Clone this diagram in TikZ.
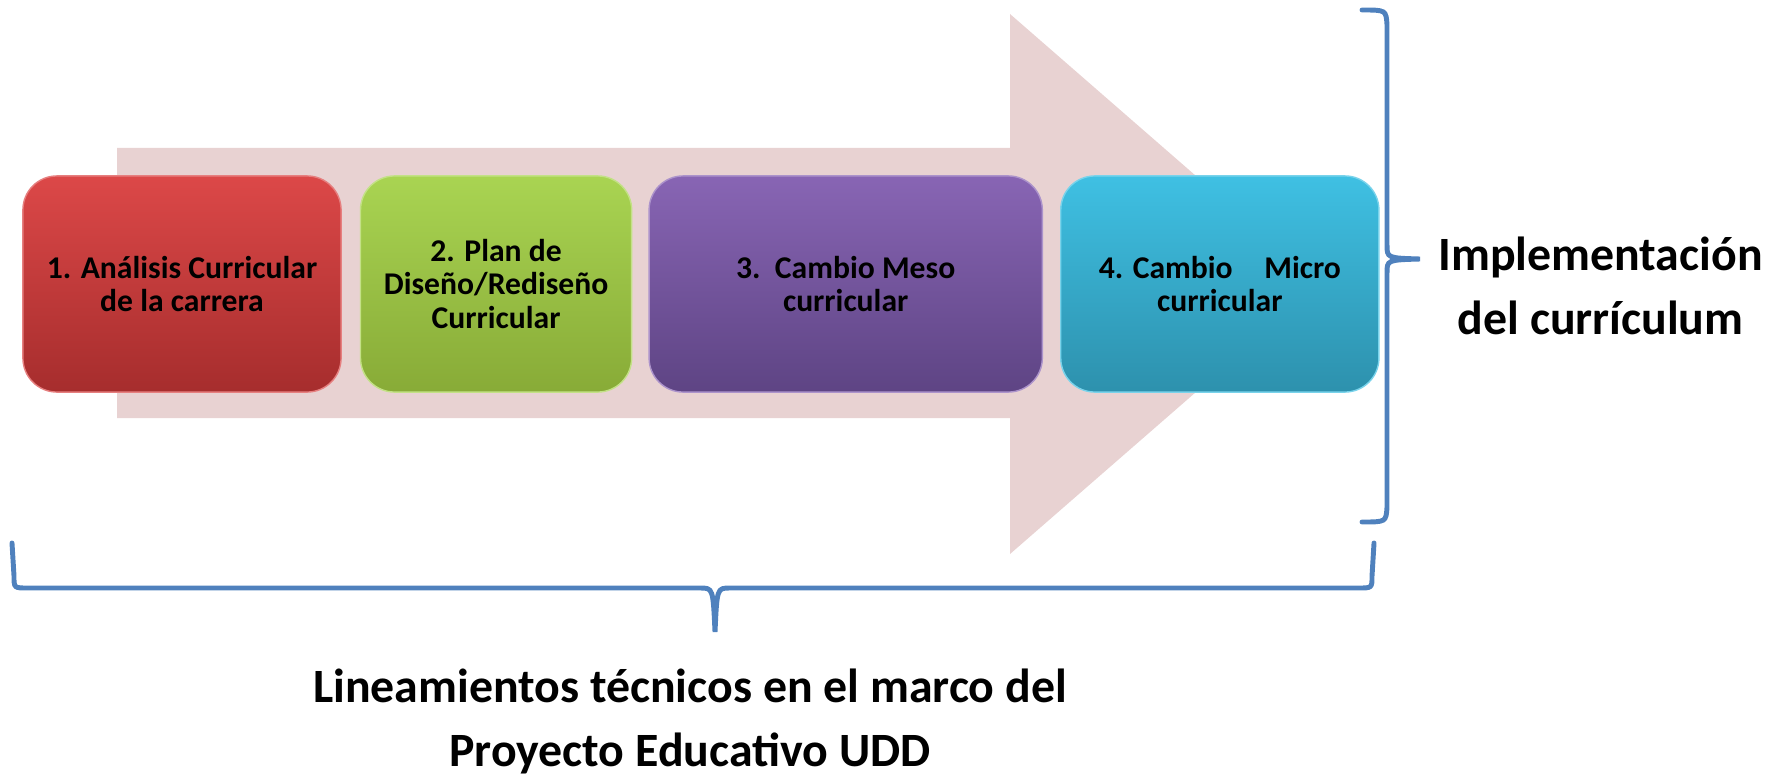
\documentclass[tikz,border=0pt]{standalone}
\usepackage{fontspec}
\setmainfont{Carlito}
\usepackage{tikz}
\usetikzlibrary{positioning}
\definecolor{arrowpink}{HTML}{E8D2D2}
\definecolor{bracketblue}{HTML}{4F81BD}
\definecolor{redtop}{HTML}{DC4848}
\definecolor{redbot}{HTML}{A62D2D}
\definecolor{greentop}{HTML}{A9D452}
\definecolor{greenbot}{HTML}{88AB37}
\definecolor{purpletop}{HTML}{8865B4}
\definecolor{purplebot}{HTML}{5E4484}
\definecolor{cyantop}{HTML}{3FC0E3}
\definecolor{cyanbot}{HTML}{2D91AD}
\tikzset{stage/.style={rounded corners=0.34cm, minimum height=2.16cm, align=center,
  font=\fontsize{9}{9.4}\selectfont\bfseries, inner sep=0pt}}
\tikzset{brace line/.style={bracketblue, line width=1.4pt, line cap=round}}
\tikzset{big label/.style={align=center, font=\fontsize{13.6}{18.4}\selectfont\bfseries}}

\begin{document}
\begin{tikzpicture}[x=0.01cm,y=-0.01cm]
\useasboundingbox (0,0) rectangle (1780,776);
\fill[arrowpink] (117,148) -- (1010,148) -- (1010,14) -- (1320,284) -- (1010,554) -- (1010,418) -- (117,418) -- cycle;
\node[stage, minimum width=3.18cm, top color=redtop, bottom color=redbot, draw=redtop!70!white] (analisis) at (182,284) {1. Análisis Curricular\\de la carrera};
\node[stage, minimum width=2.71cm, top color=greentop, bottom color=greenbot, draw=greentop!70!white, right=0.18cm of analisis] (diseno) {2. Plan de\\Diseño/Rediseño\\Curricular};
\node[stage, minimum width=3.93cm, top color=purpletop, bottom color=purplebot, draw=purpletop!70!white, right=0.16cm of diseno] (meso) {3.\ \ Cambio Meso\\curricular};
\node[stage, minimum width=3.18cm, top color=cyantop, bottom color=cyanbot, draw=cyantop!70!white, right=0.17cm of meso] (micro) {4. Cambio\quad Micro\\curricular};
%\draw (micro.east) -- (1387,284);
\coordinate (righttip) at (1420,259);
\coordinate (bottomtip) at (715,632);
\draw[brace line] (1362,10) .. controls (1386,10) .. (1387,25) -- (1387,245) .. controls (1387,258) .. (righttip) .. controls (1387,260) .. (1387,273) -- (1387,507) .. controls (1386,522) .. (1362,522);
\draw[brace line] (12,543) -- (14,576) .. controls (14,588) .. (28,588) -- (700,588) .. controls (713,588) .. (bottomtip) .. controls (717,588) .. (730,588) -- (1358,588) .. controls (1372,588) .. (1372,576) -- (1374,543);
\node[big label, right=0.06cm of righttip, yshift=-0.27cm] (implementacion) {Implementación\\del currículum};
\node[big label, below=0.24cm of bottomtip, xshift=-0.25cm] (lineamientos) {Lineamientos técnicos en el marco del\\Proyecto Educativo UDD};
\end{tikzpicture}
\end{document}
